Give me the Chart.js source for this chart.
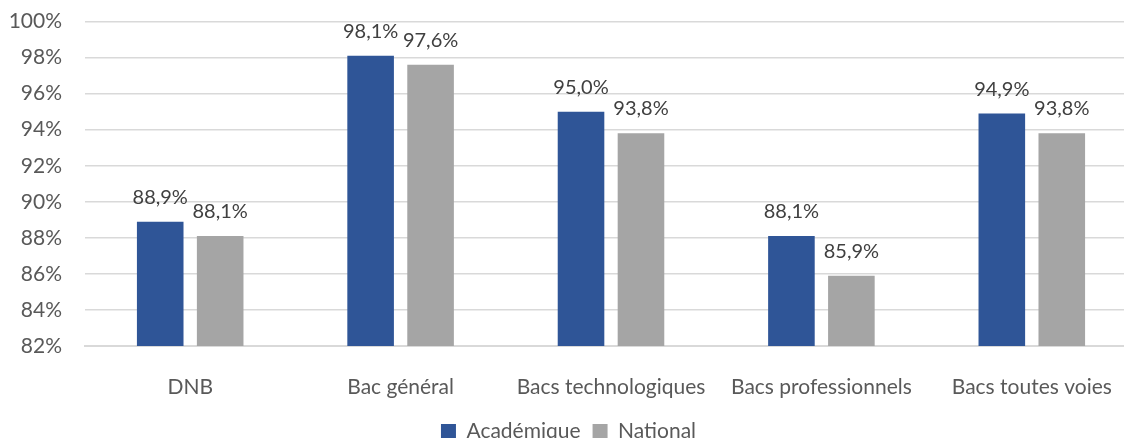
<!DOCTYPE html>
<html>
<head>
<meta charset="utf-8">
<script src="https://cdn.jsdelivr.net/npm/chart.js@4/dist/chart.umd.min.js"></script>
<style>
  html, body { margin: 0; padding: 0; background: #fff; overflow: hidden; }
  #wrap { width: 1124px; height: 438px; overflow: hidden; }
  #barChart { display: block; margin-top: -14px; }
</style>
</head>
<body>
<div id="wrap"><canvas id="barChart" width="1140" height="466"></canvas></div>
<script>
const categories = ['DNB', 'Bac général', 'Bacs technologiques', 'Bacs professionnels', 'Bacs toutes voies'];
const academique = [88.9, 98.1, 95.0, 88.1, 94.9];
const national = [88.1, 97.6, 93.8, 85.9, 93.8];
const yTicks = [82, 84, 86, 88, 90, 92, 94, 96, 98, 100];

const FONT = 'Lato, "Open Sans", sans-serif';

// draws the value above each bar, french decimal comma
const barLabels = {
    id: 'barLabels',
    afterDatasetsDraw(chart) {
        const ctx = chart.ctx;
        ctx.save();
        ctx.font = '20px ' + FONT;
        ctx.fillStyle = '#404040';
        ctx.textAlign = 'center';
        ctx.textBaseline = 'alphabetic';
        chart.data.datasets.forEach((ds, i) => {
            chart.getDatasetMeta(i).data.forEach((bar, j) => {
                const txt = ds.data[j].toFixed(1).replace('.', ',') + '%';
                ctx.fillText(txt, bar.x, bar.y - 18);
            });
        });
        ctx.restore();
    }
};

const ctx = document.getElementById('barChart').getContext('2d');
new Chart(ctx, {
    type: 'bar',
    data: {
        labels: categories,
        datasets: [
            { label: 'Académique', data: academique, backgroundColor: '#2F5597', borderWidth: 0 },
            { label: 'National', data: national, backgroundColor: '#A5A5A5', borderWidth: 0 }
        ]
    },
    options: {
        responsive: false,
        animation: false,
        categoryPercentage: 0.57,
        barPercentage: 0.777,
        layout: { padding: { left: 0, right: 3, top: -2, bottom: 0 } },
        scales: {
            x: {
                grid: { display: false },
                border: { color: '#D9D9D9', width: 2 },
                ticks: { color: '#595959', font: { family: FONT, size: 21 }, padding: 21 },
                afterFit(axis) { axis.height = 63; }
            },
            y: {
                min: 82,
                max: 100,
                afterBuildTicks(axis) { axis.ticks = yTicks.map(v => ({ value: v })); },
                afterFit(axis) { axis.width = 85; },
                grid: { color: '#D9D9D9', lineWidth: 1.5, drawTicks: false },
                border: { display: false },
                ticks: {
                    color: '#595959',
                    font: { family: FONT, size: 21 },
                    padding: 23,
                    callback: v => v + '%'
                }
            }
        },
        plugins: {
            legend: {
                position: 'bottom',
                labels: {
                    color: '#595959',
                    font: { family: FONT, size: 21 },
                    boxWidth: 15,
                    boxHeight: 15,
                    padding: 12
                }
            },
            tooltip: { enabled: false }
        }
    },
    plugins: [barLabels]
});
</script>
</body>
</html>
